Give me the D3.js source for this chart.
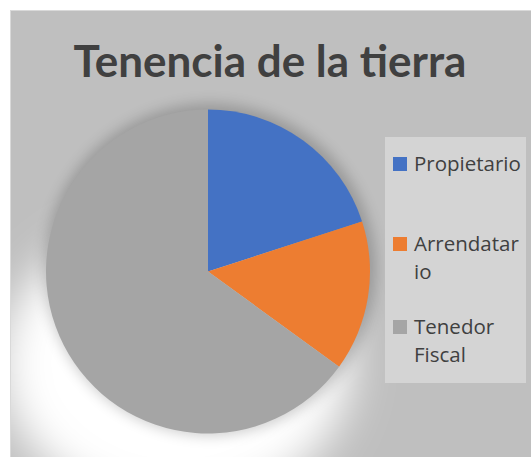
<!DOCTYPE html>
<html><head><meta charset="utf-8">
<script src="https://cdn.jsdelivr.net/npm/d3@7"></script>
<style>body{margin:0;background:#fff;}svg{display:block;}</style>
</head><body>
<svg id="c" width="531" height="457"></svg>
<script>
const categories = ["Propietario", "Arrendatario", "Tenedor Fiscal"];
const legendLines = [["Propietario"], ["Arrendatar", "io"], ["Tenedor", "Fiscal"]];
const values = [20, 15, 65];
const colors = ["#4472C4", "#ED7D31", "#A5A5A5"];
const title = "Tenencia de la tierra";

const svg = d3.select("#c");
const defs = svg.append("defs");
defs.append("filter").attr("id","blurW").attr("x","-50%").attr("y","-50%").attr("width","200%").attr("height","200%")
  .append("feGaussianBlur").attr("stdDeviation", 22);
defs.append("filter").attr("id","blurD").attr("x","-50%").attr("y","-50%").attr("width","200%").attr("height","200%")
  .append("feGaussianBlur").attr("stdDeviation", 7);
defs.append("clipPath").attr("id","area").append("rect").attr("x",11).attr("y",11).attr("width",520).attr("height",446);

// chart area
svg.append("rect").attr("x",10.5).attr("y",10.5).attr("width",530).attr("height",460)
  .attr("fill","#BFBFBF").attr("stroke","#D9D9D9").attr("stroke-width",1);

const cx = 208, cy = 271.5, r = 162;
const g0 = svg.append("g").attr("clip-path","url(#area)");
g0.append("ellipse").attr("cx",cx-32).attr("cy",cy+92).attr("rx",175).attr("ry",145)
  .attr("fill","#ffffff").attr("filter","url(#blurW)");
g0.append("circle").attr("cx",cx+2).attr("cy",cy-2).attr("r",r+4)
  .attr("fill","#000").attr("opacity",0.2).attr("filter","url(#blurD)");

const pie = d3.pie().sort(null).value(d=>d)(values);
const arc = d3.arc().innerRadius(0).outerRadius(r);
svg.append("g").attr("transform",`translate(${cx},${cy})`)
  .selectAll("path").data(pie).join("path")
  .attr("d",arc).attr("fill",(d,i)=>colors[i]);

// title
svg.append("text").attr("x",270).attr("y",77).attr("text-anchor","middle")
  .attr("font-family","Lato, 'Open Sans', sans-serif").attr("font-weight","bold")
  .attr("font-size",44).attr("fill","#404040").text(title);

// legend
svg.append("rect").attr("x",385).attr("y",137).attr("width",141).attr("height",246).attr("fill","#D4D4D4");
const ly = [157, 237, 320];
const lg = svg.append("g");
legendLines.forEach((lines,i)=>{
  lg.append("rect").attr("x",393).attr("y",ly[i]).attr("width",14).attr("height",14).attr("fill",colors[i]);
  lines.forEach((t,j)=>{
    lg.append("text").attr("x",414).attr("y",ly[i]+14+j*28)
      .attr("font-family","'Open Sans', Lato, sans-serif").attr("font-size",20.5)
      .attr("fill","#404040").text(t);
  });
});
</script>
</body></html>
